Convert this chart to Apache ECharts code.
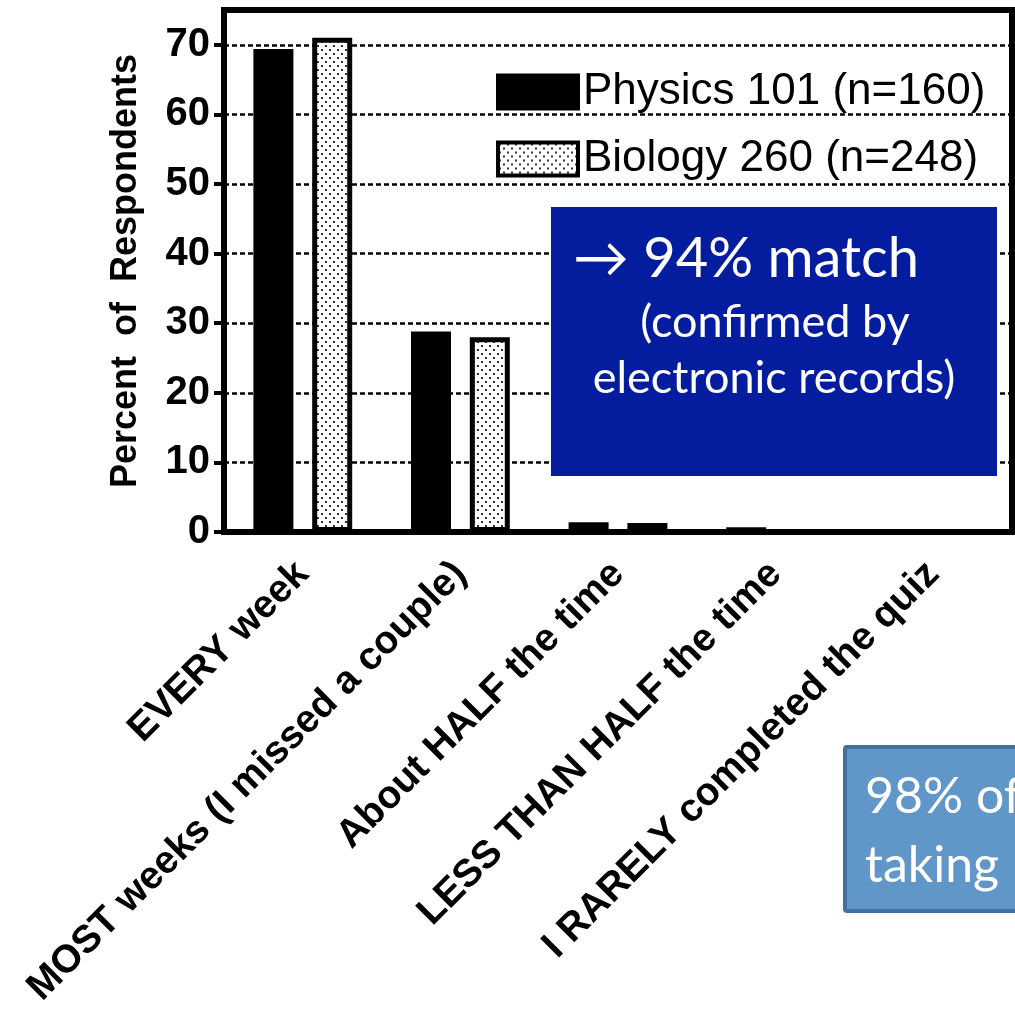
<!DOCTYPE html>
<html>
<head>
<meta charset="utf-8">
<script src="https://cdn.jsdelivr.net/npm/echarts@6/dist/echarts.min.js"></script>
<style>
html,body{margin:0;padding:0;background:#fff;}
#chart{width:1015px;height:1010px;}
</style>
</head>
<body>
<div id="chart"></div>
<script>
const categories = ['EVERY week', 'MOST weeks (I missed a couple)', 'About HALF the time', 'LESS THAN HALF the time', 'I RARELY completed the quiz'];
const seriesNames = ['Physics 101 (n=160)', 'Biology 260 (n=248)'];
const physics = [69.4, 28.8, 1.4, 0.7, 0];
const biology = [71.0, 28.0, 1.3, 0, 0];
const yTicks = [0, 10, 20, 30, 40, 50, 60, 70];
const yAxisTitle = 'Percent  of  Respondents';
const boxLines = ['\u2192 94% match', '(confirmed by', 'electronic records)'];
const box2Lines = ['98% of', 'taking'];

// dotted fill pattern
const pc = document.createElement('canvas');
pc.width = 8; pc.height = 8;
const pctx = pc.getContext('2d');
pctx.fillStyle = '#fff'; pctx.fillRect(0, 0, 8, 8);
pctx.fillStyle = '#000';
pctx.beginPath(); pctx.arc(2, 2, 1.1, 0, Math.PI * 2); pctx.fill();
pctx.beginPath(); pctx.arc(6, 6, 1.1, 0, Math.PI * 2); pctx.fill();
const dotPattern = { image: pc, repeat: 'repeat' };

const chart = echarts.init(document.getElementById('chart'), null, { renderer: 'canvas' });
const AX = 'Liberation Sans, Arial, Helvetica, sans-serif';
const CAL = 'Lato, Carlito, "Open Sans", sans-serif';

chart.setOption({
  animation: false,
  backgroundColor: '#fff',
  grid: { left: 224, right: 3, top: 10, bottom: 472, show: true, borderColor: '#000', borderWidth: 6, backgroundColor: 'transparent' },
  legend: {
    orient: 'vertical', left: 491, top: 65, padding: 5, itemWidth: 80, itemHeight: 33, itemGap: 23,
    icon: 'rect',
    textStyle: { fontFamily: AX, fontSize: 44, color: '#000', lineHeight: 36 },
    data: [
      { name: seriesNames[0], itemStyle: { color: '#000', borderColor: '#000', borderWidth: 4 } },
      { name: seriesNames[1], itemStyle: { color: dotPattern, borderColor: '#000', borderWidth: 4 } }
    ]
  },
  xAxis: {
    type: 'category', data: categories,
    axisLine: { show: false }, axisTick: { show: false },
    axisLabel: { interval: 0, rotate: 45, margin: 36, fontFamily: AX, fontWeight: 'bold', fontSize: 39, color: '#000', hideOverlap: false }
  },
  yAxis: {
    type: 'value', min: 0, max: 75, interval: 10,
    name: yAxisTitle, nameLocation: 'middle', nameRotate: 90, nameGap: 80,
    nameTextStyle: { fontFamily: AX, fontWeight: 'bold', fontSize: 36, color: '#000' },
    axisLine: { show: false },
    axisTick: { show: true, length: 10, lineStyle: { color: '#000', width: 4 }, customValues: yTicks },
    axisLabel: { margin: 14, fontFamily: AX, fontWeight: 'bold', fontSize: 40, color: '#000', customValues: yTicks },
    splitLine: { show: true, lineStyle: { color: '#000', width: 2.5, type: [5, 3] } }
  },
  series: [
    { name: seriesNames[0], type: 'bar', data: physics, barWidth: 40, barGap: '47%',
      itemStyle: { color: '#000', borderColor: '#000', borderWidth: 4 } },
    { name: seriesNames[1], type: 'bar', data: biology, barWidth: 40, barGap: '47%',
      itemStyle: { color: dotPattern, borderColor: '#000', borderWidth: 5 } }
  ],
  graphic: [
    { type: 'rect', z: 100, shape: { x: 551, y: 207, width: 446, height: 269 }, style: { fill: '#041C9E' } },
    { type: 'text', z: 101, x: 573, y: 259, style: { text: boxLines[0], font: 'normal 56px ' + CAL, fill: '#fff', align: 'left', verticalAlign: 'middle' } },
    { type: 'text', z: 101, x: 775, y: 322, style: { text: boxLines[1], font: 'normal 45px ' + CAL, fill: '#fff', align: 'center', verticalAlign: 'middle' } },
    { type: 'text', z: 101, x: 774, y: 378, style: { text: boxLines[2], font: 'normal 45px ' + CAL, fill: '#fff', align: 'center', verticalAlign: 'middle' } },
    { type: 'rect', z: 100, shape: { x: 845, y: 747, width: 220, height: 164, r: 2 }, style: { fill: '#6196C8', stroke: '#41709C', lineWidth: 4 } },
    { type: 'text', z: 101, x: 865, y: 797, style: { text: box2Lines[0], font: 'normal 50px ' + CAL, fill: '#fff', align: 'left', verticalAlign: 'middle' } },
    { type: 'text', z: 101, x: 865, y: 866, style: { text: box2Lines[1], font: 'normal 50px ' + CAL, fill: '#fff', align: 'left', verticalAlign: 'middle' } }
  ]
});
</script>
</body>
</html>
